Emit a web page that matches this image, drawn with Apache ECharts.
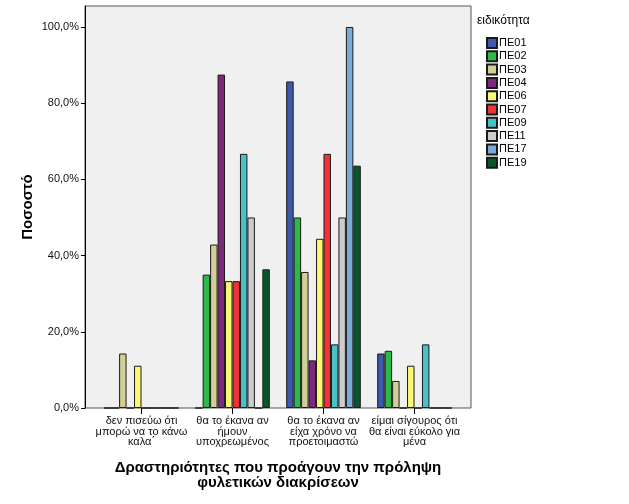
<!DOCTYPE html>
<html>
<head>
<meta charset="utf-8">
<script src="https://cdn.jsdelivr.net/npm/echarts@6/dist/echarts.min.js"></script>
<style>
  html, body { margin: 0; padding: 0; background: #fff; }
  #chart { width: 629px; height: 504px; }
</style>
</head>
<body>
<div id="chart"></div>
<script>
// κατηγορίες άξονα x
const categories = [
  'δεν πισεύω ότι\nμπορώ να το κάνω\nκαλα΄',
  'θα το έκανα αν\nήμουν\nυποχρεωμένος',
  'θα το έκανα αν\nείχα χρόνο να\nπροετοιμαστώ',
  'είμαι σίγουρος ότι\nθα είναι εύκολο για\nμένα'
]

// ειδικότητες (σειρές) και χρώματα
const specialties = ['ΠΕ01', 'ΠΕ02', 'ΠΕ03', 'ΠΕ04', 'ΠΕ06', 'ΠΕ07', 'ΠΕ09', 'ΠΕ11', 'ΠΕ17', 'ΠΕ19']
const colors = ['#3e58ac', '#2eb848', '#d3ce97', '#7c287d', '#fbf873', '#ef3338', '#48c2c5', '#cccccc', '#7aaad5', '#0a562c']

// ποσοστά ανά ειδικότητα (σειρά κατηγοριών όπως παραπάνω)
const pe01 = [0, 0, 85.7, 14.3]
const pe02 = [0, 35.0, 50.0, 15.0]
const pe03 = [14.3, 42.9, 35.7, 7.1]
const pe04 = [0, 87.5, 12.5, 0]
const pe06 = [11.1, 33.3, 44.4, 11.1]
const pe07 = [0, 33.3, 66.7, 0]
const pe09 = [0, 66.7, 16.7, 16.7]
const pe11 = [0, 50.0, 50.0, 0]
const pe17 = [0, 0, 100.0, 0]
const pe19 = [0, 36.4, 63.6, 0]
const seriesValues = [pe01, pe02, pe03, pe04, pe06, pe07, pe09, pe11, pe17, pe19]

// τιμές άξονα y
const yTicks = [0, 20, 40, 60, 80, 100]

const font = '"Liberation Sans", Arial, sans-serif'
const chart = echarts.init(document.getElementById('chart'))

const option = {
  animation: false,
  textStyle: { fontFamily: font },
  title: {
    text: 'ειδικότητα',
    left: 472,
    top: 10,
    textStyle: { fontFamily: font, fontSize: 12, fontWeight: 'normal', color: '#000' }
  },
  legend: {
    orient: 'vertical',
    left: 481,
    top: 32,
    itemWidth: 10,
    itemHeight: 10,
    itemGap: 1.3,
    icon: 'rect',
    textStyle: { fontFamily: font, fontSize: 11, lineHeight: 11, color: '#000', padding: [0, 0, 0, -3] },
    data: specialties
  },
  grid: [
    {
      // πλαίσιο / φόντο
      left: 85, right: 158, top: 6, bottom: 96,
      show: true,
      backgroundColor: '#f0f0f0',
      borderColor: '#555',
      borderWidth: 1
    },
    {
      left: 96, right: 169, top: 6, bottom: 96
    }
  ],
  xAxis: [
    { type: 'category', gridIndex: 0, data: categories, show: false },
    {
      type: 'category',
      gridIndex: 1,
      data: categories,
      name: 'Δραστηριότητες που προάγουν την πρόληψη\nφυλετικών διακρίσεων',
      nameLocation: 'middle',
      nameGap: 52,
      nameMoveOverlap: false,
      nameTextStyle: { fontFamily: font, fontSize: 15, fontWeight: 'bold', color: '#000', lineHeight: 15, verticalAlign: 'top' },
      axisLine: { show: false },
      axisTick: { show: true, alignWithLabel: true, length: 6, lineStyle: { color: '#000' } },
      axisLabel: { interval: 0, margin: 8, fontSize: 11, lineHeight: 10.5, color: '#111', fontFamily: font }
    }
  ],
  yAxis: [
    {
      type: 'value',
      gridIndex: 0,
      min: 0,
      max: 105.5,
      name: 'Ποσοστό',
      nameLocation: 'middle',
      nameGap: 50,
      nameMoveOverlap: false,
      nameTextStyle: { fontFamily: font, fontSize: 15, fontWeight: 'bold', color: '#000' },
      axisLine: { show: true, lineStyle: { color: '#000' } },
      axisTick: { show: true, length: 4, lineStyle: { color: '#000' }, customValues: yTicks },
      axisLabel: {
        customValues: yTicks,
        margin: 6,
        fontSize: 11,
        color: '#111',
        fontFamily: font,
        formatter: v => v.toFixed(1).replace('.', ',') + '%'
      },
      splitLine: { show: false }
    },
    { type: 'value', gridIndex: 1, min: 0, max: 105.5, show: false }
  ],
  series: specialties.map((name, i) => ({
    name: name,
    type: 'bar',
    xAxisIndex: 1,
    yAxisIndex: 1,
    barGap: '0%',
    barCategoryGap: '18%',
    itemStyle: { color: colors[i], borderColor: '#1a1a1a', borderWidth: 1 },
    data: seriesValues[i]
  }))
}

chart.setOption(option)
</script>
</body>
</html>
